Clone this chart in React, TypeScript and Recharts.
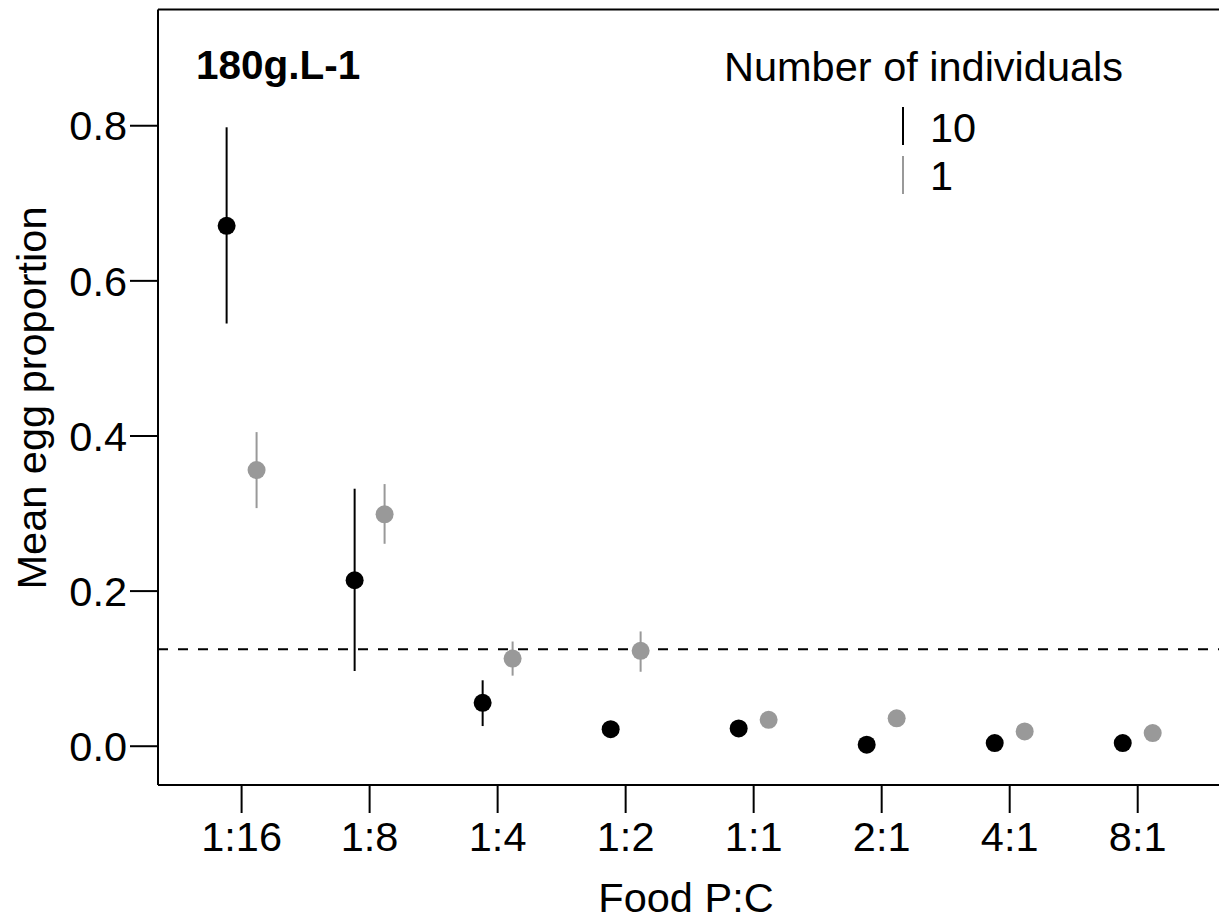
import React from 'react';
import { ComposedChart, Scatter, XAxis, YAxis, ErrorBar, ReferenceLine } from 'recharts';

// Food P:C ratios
const categories = ['1:16', '1:8', '1:4', '1:2', '1:1', '2:1', '4:1', '8:1'];

// 10 individuals (black)
const tenMean = [0.671, 0.214, 0.056, 0.022, 0.023, 0.002, 0.004, 0.004];
const tenLow = [0.545, 0.097, 0.026, 0.022, 0.023, 0.002, 0.004, 0.004];
const tenHigh = [0.798, 0.332, 0.085, 0.022, 0.023, 0.002, 0.004, 0.004];

// 1 individual (grey)
const oneMean = [0.356, 0.299, 0.113, 0.123, 0.034, 0.036, 0.019, 0.017];
const oneLow = [0.307, 0.261, 0.091, 0.096, 0.034, 0.036, 0.019, 0.017];
const oneHigh = [0.405, 0.338, 0.135, 0.148, 0.034, 0.036, 0.019, 0.017];

const yTicks = [0, 0.2, 0.4, 0.6, 0.8];
const threshold = 0.125;

const W = 1219;
const H = 922;
const DODGE = 0.117;
const FONT = '"Liberation Sans", Arial, sans-serif';
const FS = 41.5;
const GREY = '#999999';

const build = (mean: number[], low: number[], high: number[], shift: number) =>
  categories.map((c, i) => ({
    x: i + shift,
    y: mean[i],
    err: [mean[i] - low[i], high[i] - mean[i]],
  }));

const tenData = build(tenMean, tenLow, tenHigh, -DODGE);
const oneData = build(oneMean, oneLow, oneHigh, DODGE);

const dot = (color: string) => (props: any) =>
  <circle cx={props.cx} cy={props.cy} r={9} fill={color} />;

const tickStyle = { fill: '#000', fontSize: FS, fontFamily: FONT };

export default function App() {
  return (
    <div style={{ position: 'absolute', left: 0, top: 0, width: W, height: H, background: '#fff' }}>
      <ComposedChart width={W} height={H} margin={{ top: 9.4, right: 0, bottom: 0, left: 0 }}>
        <XAxis
          type="number"
          dataKey="x"
          domain={[-0.653, 7.635]}
          allowDataOverflow
          ticks={categories.map((_, i) => i)}
          tickFormatter={(v) => categories[v]}
          height={137}
          tickSize={28}
          tickMargin={9}
          axisLine={{ stroke: '#000', strokeWidth: 2 }}
          tickLine={{ stroke: '#000', strokeWidth: 2 }}
          tick={tickStyle}
          interval={0}
        />
        <YAxis
          type="number"
          domain={[-0.05, 0.95]}
          allowDataOverflow
          ticks={yTicks}
          tickFormatter={(v) => v.toFixed(1)}
          width={158}
          tickSize={28}
          tickMargin={3}
          axisLine={{ stroke: '#000', strokeWidth: 2 }}
          tickLine={{ stroke: '#000', strokeWidth: 2 }}
          tick={tickStyle}
        />
        <ReferenceLine y={0.95} stroke="#000" strokeWidth={2} />
        <ReferenceLine y={threshold} stroke="#000" strokeWidth={2} strokeDasharray="10 10" />
        <Scatter data={oneData} dataKey="y" shape={dot(GREY)} isAnimationActive={false}>
          <ErrorBar dataKey="err" direction="y" width={0} stroke={GREY} strokeWidth={2} />
        </Scatter>
        <Scatter data={tenData} dataKey="y" shape={dot('#000')} isAnimationActive={false}>
          <ErrorBar dataKey="err" direction="y" width={0} stroke="#000" strokeWidth={2} />
        </Scatter>
      </ComposedChart>
      <svg
        width={W}
        height={H}
        style={{ position: 'absolute', left: 0, top: 0, pointerEvents: 'none' }}
        fontFamily={FONT}
      >
        <text x={196} y={79} fontSize={40.5} fontWeight="bold" fill="#000">180g.L-1</text>
        <text x={724} y={81} fontSize={FS} fill="#000">Number of individuals</text>
        <line x1={903} x2={903} y1={107} y2={145} stroke="#000" strokeWidth={2} />
        <text x={930} y={142} fontSize={FS} fill="#000">10</text>
        <line x1={903} x2={903} y1={156} y2={194} stroke={GREY} strokeWidth={2} />
        <text x={930} y={190} fontSize={FS} fill="#000">1</text>
        <text x={686} y={912} fontSize={FS} textAnchor="middle" fill="#000">Food P:C</text>
        <text
          x={46}
          y={398}
          fontSize={FS}
          textAnchor="middle"
          fill="#000"
          transform="rotate(-90 46 398)"
        >
          Mean egg proportion
        </text>
      </svg>
    </div>
  );
}
